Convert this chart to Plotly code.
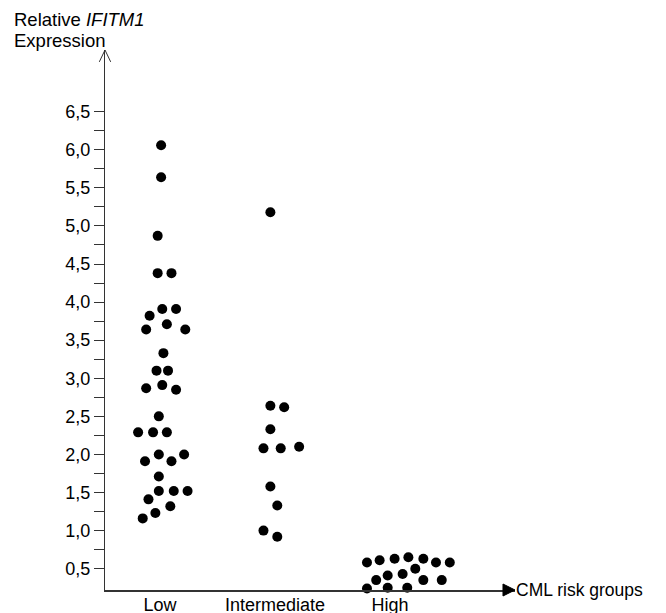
import plotly.graph_objects as go

# ---- data ----
groups = ["Low", "Intermediate", "High"]

low_values = [6.06, 5.64, 4.87, 4.38, 4.38,
              3.91, 3.91, 3.82, 3.64, 3.71, 3.64, 3.33, 3.10, 3.10,
              2.87, 2.91, 2.85, 2.50, 2.29, 2.29, 2.29,
              1.91, 2.00, 1.91, 2.00,
              1.71, 1.52, 1.52, 1.52, 1.41, 1.32, 1.23, 1.16]
low_offsets = [0.01, 0.01, -0.02, -0.02, 0.10,
               0.02, 0.14, -0.09, -0.12, 0.06, 0.22, 0.03, -0.03, 0.07,
               -0.12, 0.02, 0.14, -0.01, -0.19, -0.06, 0.06,
               -0.13, -0.01, 0.10, 0.21,
               -0.01, -0.01, 0.12, 0.24, -0.10, 0.09, -0.04, -0.15]

inter_values = [5.18, 2.64, 2.62, 2.33, 2.08, 2.08, 2.10, 1.58, 1.33, 1.00, 0.92]
inter_offsets = [-0.04, -0.04, 0.08, -0.04, -0.10, 0.05, 0.21, -0.04, 0.02, -0.10, 0.02]

high_values = [0.58, 0.61, 0.63, 0.65, 0.63, 0.58, 0.58,
               0.35, 0.41, 0.43, 0.50, 0.35, 0.35,
               0.24, 0.25, 0.25]
high_offsets = [-0.20, -0.09, 0.04, 0.16, 0.29, 0.40, 0.52,
                -0.12, -0.02, 0.11, 0.22, 0.29, 0.45,
                -0.20, -0.02, 0.15]

y_tick_values = [0.5, 0.75, 1.0, 1.25, 1.5, 1.75, 2.0, 2.25, 2.5, 2.75, 3.0, 3.25,
                 3.5, 3.75, 4.0, 4.25, 4.5, 4.75, 5.0, 5.25, 5.5, 5.75, 6.0, 6.25, 6.5]
y_tick_labels = ["0,5", "", "1,0", "", "1,5", "", "2,0", "", "2,5", "", "3,0", "",
                 "3,5", "", "4,0", "", "4,5", "", "5,0", "", "5,5", "", "6,0", "", "6,5"]

series = [(low_values, low_offsets), (inter_values, inter_offsets), (high_values, high_offsets)]

FONT = "Liberation Sans, Arial, Helvetica, sans-serif"
AX = "#333333"

fig = go.Figure()
for gi, (vals, offs) in enumerate(series):
    fig.add_trace(go.Scatter(
        x=[gi + o for o in offs], y=vals, mode="markers",
        marker=dict(color="black", size=10, line=dict(width=0)),
        showlegend=False, cliponaxis=False))

fig.update_layout(
    width=658, height=613,
    margin=dict(l=97, r=151, t=42, b=31),
    paper_bgcolor="white", plot_bgcolor="white",
    font=dict(family=FONT, color="black", size=18),
    xaxis=dict(range=[-0.478, 3.087], showgrid=False, zeroline=False,
               showline=True, linecolor=AX, linewidth=1.5,
               tickmode="array", tickvals=[0, 1, 2], ticktext=groups,
               ticks="", tickfont=dict(size=18), ticklabelstandoff=-2,
               automargin=False),
    yaxis=dict(range=[0.22, 7.31], showgrid=False, zeroline=False,
               showline=True, linecolor=AX, linewidth=1,
               tickmode="array", tickvals=y_tick_values, ticktext=y_tick_labels,
               ticks="outside", ticklen=10, tickwidth=1, tickcolor=AX,
               tickfont=dict(size=18), automargin=False),
    shapes=[
        dict(type="path", xref="paper", yref="paper",
             path="M -0.0139,0.978 L 0,1 L 0.0139,0.978",
             line=dict(color=AX, width=1)),
        dict(type="path", xref="paper", yref="paper",
             path="M 0.9707,0.0111 L 1.0,0 L 0.9707,-0.0111 Z",
             fillcolor="black", line=dict(color="black", width=1)),
    ],
    annotations=[
        dict(xref="paper", yref="paper", x=-0.2268, y=1.0574, xanchor="left", yanchor="middle",
             text="Relative <i>IFITM1</i>", showarrow=False, font=dict(size=18.5)),
        dict(xref="paper", yref="paper", x=-0.2268, y=1.0172, xanchor="left", yanchor="middle",
             text="Expression", showarrow=False, font=dict(size=18.5)),
        dict(xref="paper", yref="paper", x=0.9976, y=0.0, xanchor="left", yanchor="middle",
             text="CML risk groups", showarrow=False, font=dict(size=17.5)),
    ],
)

fig.write_html("out.html")
